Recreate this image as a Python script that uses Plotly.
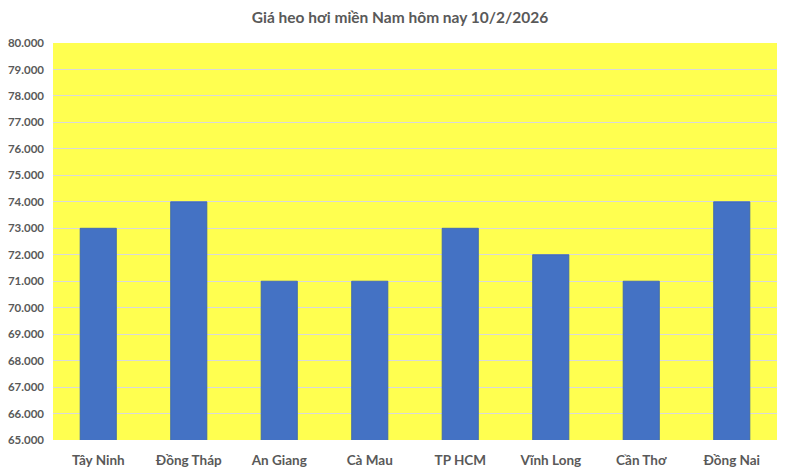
import plotly.graph_objects as go

# Giá heo hơi theo tỉnh (đồng/kg)
provinces = ["Tây Ninh", "Đồng Tháp", "An Giang", "Cà Mau", "TP HCM", "Vĩnh Long", "Cần Thơ", "Đồng Nai"]
prices = [73000, 74000, 71000, 71000, 73000, 72000, 71000, 74000]
title_text = "Giá heo hơi miền Nam hôm nay 10/2/2026"

fig = go.Figure(
    go.Bar(
        x=provinces,
        y=prices,
        marker=dict(color="#4472C4", line=dict(color="#3A62A8", width=0.8)),
        width=0.4,
    )
)

font_family = "Lato, 'Open Sans', 'Liberation Sans', sans-serif"

fig.update_layout(
    width=800,
    height=471,
    margin=dict(l=53, r=23, t=43, b=31, autoexpand=False),
    paper_bgcolor="white",
    plot_bgcolor="#FFFF50",
    separators=",.",
    showlegend=False,
    title=dict(
        text="<b>" + title_text + "</b>",
        x=0.5,
        xanchor="center",
        y=1 - 18 / 471,
        yanchor="middle",
        font=dict(family=font_family, size=15.5, color="#595959"),
    ),
    font=dict(family=font_family, color="#595959"),
    bargap=0.6,
)

fig.update_yaxes(
    range=[65000, 80000],
    dtick=1000,
    tickformat=",.0f",
    showgrid=True,
    gridcolor="#D9D9D9",
    gridwidth=1,
    zeroline=False,
    showline=False,
    ticks="",
    automargin=False,
    ticklabelstandoff=8,
    tickfont=dict(family=font_family, size=11.5, color="#595959", weight="bold"),
)
fig.update_xaxes(
    showgrid=False,
    showline=False,
    ticks="",
    automargin=False,
    ticklabelstandoff=10,
    tickfont=dict(family=font_family, size=13.5, color="#595959", weight="bold"),
)

fig.write_html("out.html")
